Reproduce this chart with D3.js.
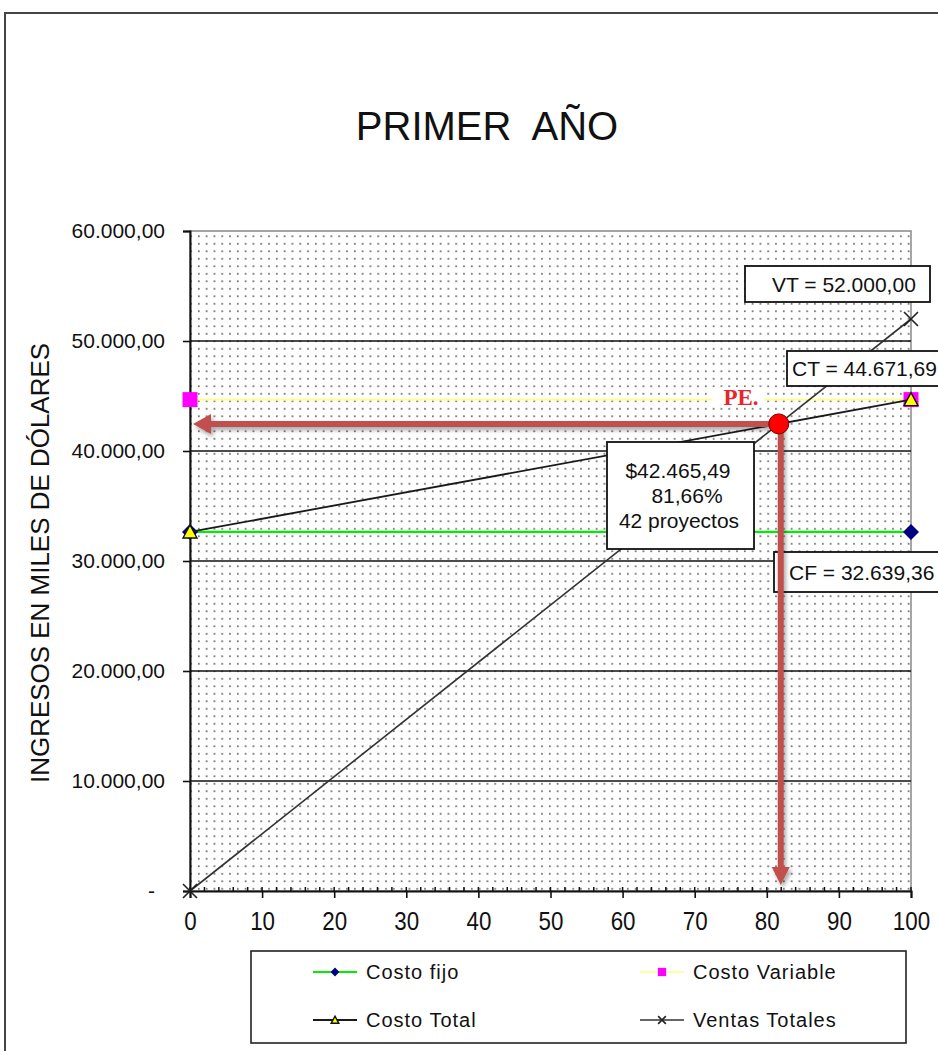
<!DOCTYPE html>
<html>
<head>
<meta charset="utf-8">
<script src="https://cdn.jsdelivr.net/npm/d3@7"></script>
<style>
  body { margin: 0; background: #fff; }
  text { font-family: "Liberation Sans", Arial, sans-serif; fill: #111; }
</style>
</head>
<body>
<div id="container"></div>
<script>
/* CONSTANTS AND GLOBALS */
const width = 938,
  height = 1051,
  margin = { top: 231, right: 27, bottom: 160, left: 190 }

/* DATA */
const xValues = [0, 100]
const costoFijo = [32639.36, 32639.36]
const costoVariable = [44671.69, 44671.69]
const costoTotal = [32639.36, 44671.69]
const ventasTotales = [0, 52000]
const seriesNames = ['Costo fijo', 'Costo Variable', 'Costo Total', 'Ventas Totales']
const xTicks = [0, 10, 20, 30, 40, 50, 60, 70, 80, 90, 100]
const xMinorTicks = d3.range(0, 101, 2)
const yTicks = [0, 10000, 20000, 30000, 40000, 50000, 60000]
// punto de equilibrio
const pePct = 81.66
const peIngreso = 42465.49
const peProyectos = 42

const locale = d3.formatLocale({ decimal: ',', thousands: '.', grouping: [3], currency: ['$', ''] })
const fmt = locale.format(',.2f')

/* SVG */
const svg = d3.select('#container')
  .append('svg')
  .attr('width', width)
  .attr('height', height)

const defs = svg.append('defs')
const pattern = defs.append('pattern')
  .attr('id', 'dots')
  .attr('patternUnits', 'userSpaceOnUse')
  .attr('width', 7.8)
  .attr('height', 7.5)
pattern.append('rect').attr('width', 7.8).attr('height', 7.5).attr('fill', '#fff')
pattern.append('rect').attr('x', 3).attr('y', 3).attr('width', 1.6).attr('height', 1.6).attr('fill', '#555')

const shadow = defs.append('filter').attr('id', 'shadow')
  .attr('x', '-20%').attr('y', '-20%').attr('width', '140%').attr('height', '140%')
shadow.append('feDropShadow')
  .attr('dx', 2).attr('dy', 3).attr('stdDeviation', 2)
  .attr('flood-color', '#000').attr('flood-opacity', 0.35)

// outer chart border
svg.append('path')
  .attr('d', `M5,${height} L5,13 L${width},13`)
  .attr('fill', 'none')
  .attr('stroke', '#444')
  .attr('stroke-width', 2)

/* SCALES */
const xScale = d3.scaleLinear()
  .domain([0, 100])
  .range([margin.left, width - margin.right])

const yScale = d3.scaleLinear()
  .domain([0, 60000])
  .range([height - margin.bottom, margin.top])

const x0 = xScale(0), x1 = xScale(100), y0 = yScale(0), y1 = yScale(60000)

// plot area
svg.append('rect')
  .attr('x', x0).attr('y', y1)
  .attr('width', x1 - x0).attr('height', y0 - y1)
  .attr('fill', 'url(#dots)')
  .attr('stroke', '#888')
  .attr('stroke-width', 1.5)

// gridlines
svg.append('g')
  .selectAll('line')
  .data(yTicks.filter(d => d > 0 && d < 60000))
  .join('line')
  .attr('x1', x0).attr('x2', x1)
  .attr('y1', d => yScale(d)).attr('y2', d => yScale(d))
  .attr('stroke', '#111')
  .attr('stroke-width', 1.6)

/* TITLE */
svg.append('text')
  .attr('x', 487)
  .attr('y', 140)
  .attr('text-anchor', 'middle')
  .style('font-size', '40px')
  .style('white-space', 'pre')
  .text('PRIMER  AÑO')

/* AXES */
const yAxis = d3.axisLeft(yScale)
  .tickValues(yTicks)
  .tickSize(7)
  .tickPadding(18)
  .tickFormat(d => d === 0 ? '-' : fmt(d))

const yAxisGroup = svg.append('g')
  .attr('transform', `translate(${x0}, 0)`)
  .call(yAxis)
yAxisGroup.select('.domain').attr('stroke', '#111').attr('stroke-width', 2)
yAxisGroup.selectAll('.tick line').attr('stroke', '#111').attr('stroke-width', 1.6)
yAxisGroup.selectAll('.tick text')
  .style('font-size', '21px')
  .attr('fill', '#111')
yAxisGroup.selectAll('.tick').filter(d => d === 0).select('text').attr('dx', -10)

const xAxis = d3.axisBottom(xScale)
  .tickValues(xTicks)
  .tickSize(7)
  .tickPadding(14)

const xAxisGroup = svg.append('g')
  .attr('transform', `translate(0, ${y0})`)
  .call(xAxis)
xAxisGroup.select('.domain').attr('stroke', '#111').attr('stroke-width', 2)
xAxisGroup.selectAll('.tick line').attr('stroke', '#111').attr('stroke-width', 1.6)
xAxisGroup.selectAll('.tick text')
  .style('font-size', '26px')
  .attr('transform', 'scale(0.86, 1)')
  .attr('fill', '#111')

// minor ticks (hacia arriba)
xAxisGroup.append('g')
  .selectAll('line')
  .data(xMinorTicks)
  .join('line')
  .attr('x1', d => xScale(d)).attr('x2', d => xScale(d))
  .attr('y1', 0).attr('y2', -4)
  .attr('stroke', '#111')
  .attr('stroke-width', 1.5)

// y axis title
svg.append('text')
  .attr('transform', 'translate(40, 563) rotate(-90)')
  .attr('text-anchor', 'middle')
  .attr('dominant-baseline', 'central')
  .attr('textLength', 440)
  .attr('lengthAdjust', 'spacingAndGlyphs')
  .style('font-size', '25px')
  .text('INGRESOS EN MILES DE DÓLARES')

/* MARKERS */
function marker(g, type, s) {
  if (type === 'diamond') {
    g.append('path')
      .attr('d', `M0,${-8 * s}L${8 * s},0L0,${8 * s}L${-8 * s},0Z`)
      .attr('fill', '#000080')
  } else if (type === 'square') {
    g.append('rect')
      .attr('x', -7.5 * s).attr('y', -7.5 * s)
      .attr('width', 15 * s).attr('height', 15 * s)
      .attr('fill', '#ff00ff')
  } else if (type === 'triangle') {
    g.append('path')
      .attr('d', `M0,${-7 * s}L${7 * s},${6 * s}L${-7 * s},${6 * s}Z`)
      .attr('fill', '#ffff00')
      .attr('stroke', '#111')
      .attr('stroke-width', 1.4)
  } else {
    g.append('path')
      .attr('d', `M${-7 * s},${-7 * s}L${7 * s},${7 * s}M${7 * s},${-7 * s}L${-7 * s},${7 * s}`)
      .attr('stroke', '#222')
      .attr('stroke-width', 1.6)
  }
}

const series = [
  { name: seriesNames[0], values: costoFijo, color: '#00ee00', width: 2.2, type: 'diamond' },
  { name: seriesNames[1], values: costoVariable, color: '#ffff80', width: 1.6, type: 'square' },
  { name: seriesNames[2], values: costoTotal, color: '#1a1a1a', width: 1.8, type: 'triangle' },
  { name: seriesNames[3], values: ventasTotales, color: '#333', width: 1.6, type: 'x' }
]

const line = d3.line()
  .x((d, i) => xScale(xValues[i]))
  .y(d => yScale(d))

const seriesGroup = svg.append('g')
series.forEach(s => {
  seriesGroup.append('path')
    .datum(s.values)
    .attr('fill', 'none')
    .attr('stroke', s.color)
    .attr('stroke-width', s.width)
    .attr('d', line)
  s.values.forEach((v, i) => {
    const g = seriesGroup.append('g')
      .attr('transform', `translate(${xScale(xValues[i])}, ${yScale(v)})`)
    marker(g, s.type, 1)
  })
})

// PE. label over the yellow line
const peLabel = svg.append('g')
peLabel.append('rect')
  .attr('x', 712).attr('y', 387)
  .attr('width', 52).attr('height', 20)
  .attr('fill', '#fff')
peLabel.append('text')
  .attr('x', 741).attr('y', 405)
  .attr('text-anchor', 'middle')
  .style('font-family', '"Liberation Serif", "Times New Roman", serif')
  .style('font-weight', 'bold')
  .style('font-size', '23px')
  .style('fill', '#e8262b')
  .text('PE.')

/* ANNOTATION BOXES */
function box(x, y, w, h, lines, anchor, tx, lineH) {
  const g = svg.append('g')
  g.append('rect')
    .attr('x', x).attr('y', y)
    .attr('width', w).attr('height', h)
    .attr('fill', '#fff')
    .attr('stroke', '#111')
    .attr('stroke-width', 1.8)
  const startY = y + h / 2 - (lines.length - 1) * lineH / 2
  lines.forEach((t, i) => {
    g.append('text')
      .attr('x', tx[i] !== undefined ? tx[i] : tx[0])
      .attr('y', startY + i * lineH)
      .attr('text-anchor', anchor)
      .attr('dominant-baseline', 'central')
      .style('font-size', '21px')
      .text(t)
  })
}

box(745, 266, 185, 36, ['VT = ' + fmt(ventasTotales[1])], 'start', [772], 0)
box(787, 351, 170, 35, ['CT = ' + fmt(costoTotal[1])], 'start', [792], 0)
box(774, 552, 180, 40, ['CF = ' + fmt(costoFijo[1])], 'start', [789], 0)
box(607, 442, 147, 107,
  ['$' + fmt(peIngreso), locale.format('.2f')(pePct) + '%', peProyectos + ' proyectos'],
  'middle', [678, 687, 679], 25)

/* PE ARROWS */
const pX = xScale(pePct), pY = yScale(peIngreso)
const arrowColor = '#c0504d'
const arrows = svg.append('g').attr('filter', 'url(#shadow)')

// horizontal, hacia el eje Y
const hTip = x0 + 3, headL = 18, headW = 10
arrows.append('line')
  .attr('x1', pX).attr('x2', hTip + headL)
  .attr('y1', pY).attr('y2', pY)
  .attr('stroke', arrowColor).attr('stroke-width', 6)
arrows.append('path')
  .attr('d', `M${hTip},${pY}L${hTip + headL},${pY - headW}L${hTip + headL},${pY + headW}Z`)
  .attr('fill', arrowColor)

// vertical, hacia el eje X
const vX = pX + 2, vTip = y0 - 6
arrows.append('line')
  .attr('x1', vX).attr('x2', vX)
  .attr('y1', pY).attr('y2', vTip - headL)
  .attr('stroke', arrowColor).attr('stroke-width', 6)
arrows.append('path')
  .attr('d', `M${vX},${vTip}L${vX - 9},${vTip - headL}L${vX + 9},${vTip - headL}Z`)
  .attr('fill', arrowColor)

svg.append('circle')
  .attr('cx', pX).attr('cy', pY)
  .attr('r', 10)
  .attr('fill', '#ff0000')
  .attr('stroke', '#700')
  .attr('stroke-width', 1)

/* LEGEND */
const legend = svg.append('g')
legend.append('rect')
  .attr('x', 251).attr('y', 951)
  .attr('width', 655).attr('height', 92)
  .attr('fill', '#fff')
  .attr('stroke', '#222')
  .attr('stroke-width', 1.6)

const legendPos = [
  { x: 313, y: 972 }, { x: 640, y: 972 },
  { x: 313, y: 1020 }, { x: 640, y: 1020 }
]
series.forEach((s, i) => {
  const p = legendPos[i]
  const g = legend.append('g').attr('transform', `translate(${p.x}, ${p.y})`)
  g.append('line')
    .attr('x1', 0).attr('x2', 44)
    .attr('stroke', s.color)
    .attr('stroke-width', s.width)
  const m = g.append('g').attr('transform', 'translate(22, 0)')
  marker(m, s.type, 0.55)
  g.append('text')
    .attr('x', 53)
    .attr('dominant-baseline', 'central')
    .style('font-size', '20px')
    .style('letter-spacing', '1px')
    .text(s.name)
})
</script>
</body>
</html>
